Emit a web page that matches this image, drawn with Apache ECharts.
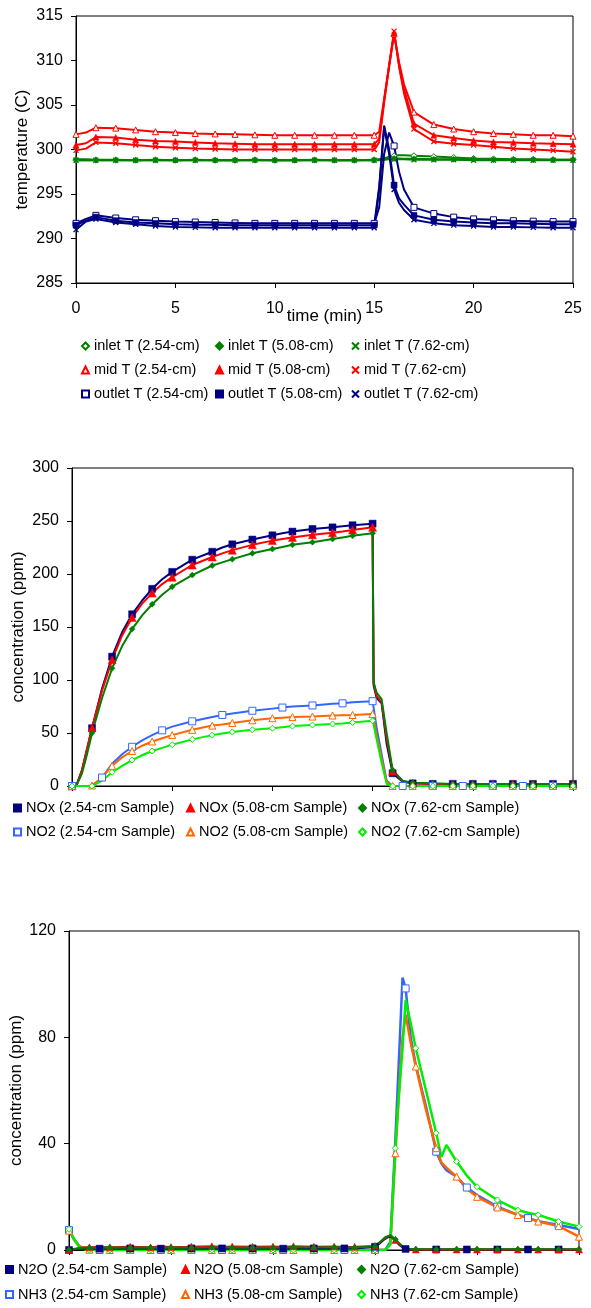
<!DOCTYPE html>
<html><head><meta charset="utf-8">
<script src="https://cdn.jsdelivr.net/npm/echarts@6/dist/echarts.min.js"></script>
<style>html,body{margin:0;padding:0;background:#fff}#c{width:591px;height:1308px}</style>
</head><body><div id="c"></div>
<script>
const FONT = 'Liberation Sans, Arial, sans-serif';

// ---------- Chart 1: temperatures ----------
const T1 = [0,0.5,1,2,3,4,5,6,7,8,9,10,11,12,13,14,15,15.25,15.5,15.75,16,16.25,16.5,17,18,19,20,21,22,23,24,25];
const inlet254 = [298.8,298.8,298.8,298.8,298.8,298.8,298.8,298.8,298.8,298.8,298.8,298.8,298.8,298.8,298.8,298.8,298.8,298.9,299.0,299.2,299.3,299.35,299.35,299.3,299.2,299.1,299.0,298.95,298.9,298.9,298.85,298.85];
const inlet508 = [298.9,298.9,298.85,298.85,298.8,298.85,298.8,298.85,298.8,298.8,298.85,298.8,298.8,298.85,298.8,298.8,298.85,298.85,298.9,298.95,299.0,299.0,298.95,298.95,298.9,298.9,298.9,298.85,298.85,298.85,298.85,298.85];
const inlet762 = [298.8,298.8,298.8,298.8,298.8,298.8,298.8,298.8,298.8,298.8,298.8,298.8,298.8,298.8,298.8,298.8,298.8,298.8,298.85,298.9,298.9,298.9,298.9,298.85,298.85,298.85,298.8,298.8,298.8,298.8,298.8,298.8];
const mid254 = [301.7,301.9,302.45,302.4,302.2,302.0,301.9,301.8,301.75,301.7,301.65,301.6,301.6,301.6,301.6,301.6,301.6,302.0,305.7,309.4,313.0,309.8,307.3,304.2,302.8,302.3,302.0,301.8,301.7,301.6,301.6,301.5];
const mid508 = [300.5,300.7,301.4,301.35,301.1,300.95,300.9,300.8,300.7,300.65,300.6,300.6,300.6,300.6,300.6,300.6,300.6,301.2,305.5,309.3,313.1,309.5,306.8,302.9,301.6,301.3,301.0,300.85,300.8,300.7,300.65,300.6];
const mid762 = [299.9,300.1,300.8,300.7,300.5,300.3,300.2,300.1,300.05,300.0,300.0,300.0,300.0,300.0,300.0,300.0,300.0,300.8,305.3,309.5,313.3,309.3,306.3,302.3,300.9,300.65,300.5,300.3,300.1,300.0,299.9,299.75];
const outlet254 = [291.7,292.2,292.6,292.3,292.1,292.0,291.9,291.85,291.8,291.75,291.7,291.7,291.7,291.7,291.7,291.7,291.7,293.5,299.5,301.9,300.4,297.5,295.5,293.5,292.8,292.4,292.2,292.1,292.0,291.95,291.9,291.9];
const outlet508 = [291.5,292.0,292.4,292.0,291.8,291.7,291.6,291.55,291.55,291.5,291.5,291.5,291.5,291.5,291.5,291.5,291.5,295.8,302.7,300.0,296.0,294.5,293.8,292.6,292.1,291.9,291.8,291.7,291.7,291.65,291.6,291.6];
const outlet762 = [291.0,291.9,292.2,291.8,291.6,291.4,291.3,291.25,291.2,291.2,291.2,291.2,291.2,291.2,291.2,291.2,291.2,295.5,302.5,299.5,295.5,294.0,293.2,292.1,291.7,291.5,291.4,291.3,291.3,291.25,291.2,291.2];

// ---------- Chart 2: NOx / NO2 ----------
const T2 = [0,0.25,0.5,0.75,1,1.5,2,2.5,3,3.5,4,4.5,5,6,7,7.5,8,9,10,10.5,11,12,13,13.5,14,15,15.05,15.2,15.45,15.7,16,16.5,17,18,19,19.5,20,21,22,22.5,23,24,25];
const nox254 = [0,2,15,35,54.5,92,122,145,162,175,186,195,202,213.5,221,225,228,232.5,236.5,238.5,240,242.5,244,245,246,247.5,95,83,78,40,12,4,2.5,2,2,2,2,2,2,2,2,2,2];
const nox508 = [0,2,15,35,55,90,119,142,159,172,182,190.5,197,208.5,216,219.5,222.5,227.5,231.5,233,234.5,237,239,240,241.5,244,97,85,79,45,14,4.5,2.5,2,2,2,2,2,1.8,1.8,1.8,1.8,1.8];
const nox762 = [0,1.5,12,30,50,83,111,132,148,161,171.5,180.5,188,199,208,211,214,219.5,223.5,225.5,227.5,230,233,234.5,236,238.5,98,88,82,50,15,5,3,2.5,2,2,2,2,2,2,2,2,2];
const no2_254 = [0,0,0,0,0,8,21,30,37,43,48,52.5,56,61,65,67,68.5,71,73,74,75,76,77.5,78,79,80,74,55,30,5,0,0,0,0,0,0,0,0,0,0,0,0,0];
const no2_508 = [0,0,0,0,0.5,8,19,27,33,38,42,45,48,53,57,58,59.5,62,64,64.5,65,65.5,66.5,66.8,67,68,64,48,26,4,0,0,0,0,0,0,0,0,0,0,0,0,0];
const no2_762 = [0,0,0,0,0,5,13,19,24.5,29,33,36,39,44,48,49.5,51,53,54.5,55.5,56.5,57.5,58.5,59,60,61.5,58,44,22,2,0,0,0,0,0,0,0,0,0,0,0,0,0];

// ---------- Chart 3: N2O / NH3 ----------
const T3 = [0,0.25,0.5,0.75,1,1.5,2,3,4,4.5,5,6,7,7.5,8,9,10,10.5,11,12,13,13.5,14,15,15.25,15.5,15.75,16,16.15,16.35,16.5,16.75,17,17.5,18,18.25,18.5,19,19.5,20,21,22,22.5,23,24,25];
const n2o254 = [0,0.3,0.5,0.5,0.5,0.5,0.5,0.6,0.5,0.5,0.5,0.6,0.5,0.6,0.5,0.6,0.5,0.5,0.5,0.6,0.5,0.6,0.6,1.2,2.6,4.2,5.3,3.6,2.2,0.9,0.4,0.3,0.2,0.2,0.2,0.2,0.2,0.2,0.2,0.2,0.2,0.2,0.2,0.2,0.2,0.2];
const n2o508 = [0,0.4,0.8,1.0,1.0,1.1,1.0,1.2,1.0,1.3,1.1,1.2,1.4,1.1,1.3,1.2,1.3,1.1,1.4,1.2,1.3,1.1,1.2,1.5,3.0,4.5,5.5,3.8,2.5,1.2,0.4,0.2,0.2,0.2,0.2,0.2,0.2,0.2,0.2,0.2,0.2,0.2,0.2,0.2,0.2,0.2];
const n2o762 = [0,0.3,0.6,0.8,0.8,0.8,0.9,0.8,0.9,0.8,0.9,0.8,0.9,1.0,0.8,0.9,0.8,0.9,1.0,0.9,1.0,0.9,0.9,1.3,3.0,4.8,5.6,4.0,2.8,1.4,0.5,0.3,0.3,0.3,0.3,0.3,0.3,0.3,0.3,0.3,0.3,0.3,0.3,0.3,0.3,0.3];
const nh3_254 = [7.5,4,1.5,0.5,0.1,0,0,0,0,0,0,0,0,0,0,0,0,0,0,0,0,0,0,0,0,0,3,42,68,102.5,98.4,80,69.6,54,37,32.6,30,27.6,23.5,20.7,16.3,13.2,12,10.8,9.4,7.9];
const nh3_508 = [7.3,4,1.5,0.5,0.1,0,0,0,0,0,0,0,0,0,0,0,0,0,0,0,0,0,0,0,0,0,2,36.4,56,80,88.5,78,69,52.7,38.3,33,31,27.6,23,20,16,13.2,12,10.7,9,5];
const nh3_762 = [7.8,4,1.2,0.3,0,0,0,0,0,0,0,0,0,0,0,0,0,0,0,0,0,0,0,0,0,0,2,38.3,56,76,94,85.3,75.9,60,44,35,39.5,33.3,28,23.8,18.8,15,14,13.2,10.7,8.8];

// ---------- helpers ----------
const XMARK = 'path://M0,0L10,10M10,0L0,10';
const onStep = (t, s) => Math.abs(t / s - Math.round(t / s)) < 1e-9;
function mk(name, times, vals, color, sym, hollow, size, step, gi, lw) {
  return {
    name, type: 'line', xAxisIndex: gi, yAxisIndex: gi,
    data: times.map((t, i) => ({ value: [t, vals[i]], symbol: onStep(t, step) ? sym : 'none' })),
    symbol: sym, symbolSize: size, showAllSymbol: true,
    lineStyle: { color, width: lw },
    itemStyle: hollow ? { color: '#fff', borderColor: color, borderWidth: 1 }
                      : { color, borderColor: color, borderWidth: sym === XMARK ? 1.3 : 0.5 },
    emphasis: { disabled: true }, animation: false
  };
}
const GREEN = '#008000', RED = '#ff0000', NAVY = '#000080', BLUE = '#3366ff', ORANGE = '#ff6600', LIME = '#00ee00';

function xAx(gi, showLabel, name) {
  return {
    type: 'value', gridIndex: gi, min: 0, max: 25, interval: 5,
    axisLine: { show: true, onZero: false, lineStyle: { color: '#000', width: 1 } },
    axisTick: { show: true, length: 5, lineStyle: { color: '#000' } },
    axisLabel: { show: showLabel, color: '#000', fontSize: 16, fontFamily: FONT, margin: 18 },
    splitLine: { show: false },
    name: name || '', nameLocation: 'middle', nameGap: 25, nameMoveOverlap: false,
    nameTextStyle: { color: '#000', fontSize: 17, fontFamily: FONT }
  };
}
function yAx(gi, min, max, interval, name, gap) {
  return {
    type: 'value', gridIndex: gi, min, max, interval,
    axisLine: { show: true, onZero: false, lineStyle: { color: '#000', width: 1 } },
    axisTick: { show: true, length: 5, lineStyle: { color: '#000' } },
    axisLabel: { color: '#000', fontSize: 16, fontFamily: FONT, margin: 13 },
    splitLine: { show: false },
    name, nameLocation: 'middle', nameGap: gap, nameMoveOverlap: false,
    nameTextStyle: { color: '#000', fontSize: 17, fontFamily: FONT }
  };
}
function lg(items, left, top, lh) {
  return {
    orient: 'vertical', left, top, padding: 0, itemGap: 0, itemWidth: 7, itemHeight: 7,
    selectedMode: false,
    textStyle: { color: '#000', fontSize: 14.5, fontFamily: FONT, lineHeight: lh },
    data: items.map(([name, icon]) => ({ name, icon }))
  };
}

const series = [
  mk('inlet T (2.54-cm)', T1, inlet254, GREEN, 'diamond', true, 6, 1, 0, 2),
  mk('inlet T (5.08-cm)', T1, inlet508, GREEN, 'diamond', false, 6, 1, 0, 2),
  mk('inlet T (7.62-cm)', T1, inlet762, GREEN, XMARK, false, 5, 1, 0, 2),
  mk('mid T (2.54-cm)', T1, mid254, RED, 'triangle', true, 6, 1, 0, 2),
  mk('mid T (5.08-cm)', T1, mid508, RED, 'triangle', false, 6, 1, 0, 2),
  mk('mid T (7.62-cm)', T1, mid762, RED, XMARK, false, 5, 1, 0, 2),
  mk('outlet T (2.54-cm)', T1, outlet254, NAVY, 'rect', true, 6, 1, 0, 2),
  mk('outlet T (5.08-cm)', T1, outlet508, NAVY, 'rect', false, 6, 1, 0, 2),
  mk('outlet T (7.62-cm)', T1, outlet762, NAVY, XMARK, false, 5, 1, 0, 2),

  mk('NOx (2.54-cm Sample)', T2, nox254, NAVY, 'rect', false, 7, 1, 1, 2),
  mk('NOx (5.08-cm Sample)', T2, nox508, RED, 'triangle', false, 8, 1, 1, 2),
  mk('NOx (7.62-cm Sample)', T2, nox762, GREEN, 'diamond', false, 6, 1, 1, 2),
  mk('NO2 (2.54-cm Sample)', T2, no2_254, BLUE, 'rect', true, 7, 1.5, 1, 2),
  mk('NO2 (5.08-cm Sample)', T2, no2_508, ORANGE, 'triangle', true, 7, 1, 1, 2),
  mk('NO2 (7.62-cm Sample)', T2, no2_762, LIME, 'diamond', true, 6, 1, 1, 2),

  mk('NH3 (2.54-cm Sample)', T3, nh3_254, BLUE, 'rect', true, 7, 1.5, 2, 2.5),
  mk('NH3 (5.08-cm Sample)', T3, nh3_508, ORANGE, 'triangle', true, 7, 1, 2, 2.5),
  mk('NH3 (7.62-cm Sample)', T3, nh3_762, LIME, 'diamond', true, 6, 1, 2, 2.5),
  mk('N2O (2.54-cm Sample)', T3, n2o254, NAVY, 'rect', false, 7, 1.5, 2, 2),
  mk('N2O (5.08-cm Sample)', T3, n2o508, RED, 'triangle', false, 7, 1, 2, 2),
  mk('N2O (7.62-cm Sample)', T3, n2o762, GREEN, 'diamond', false, 6, 1, 2, 2)
];

const option = {
  animation: false,
  backgroundColor: '#fff',
  textStyle: { fontFamily: FONT },
  grid: [
    { left: 76, top: 16, width: 497, height: 267, show: true, borderColor: '#000', borderWidth: 1 },
    { left: 72, top: 468, width: 501, height: 318, show: true, borderColor: '#000', borderWidth: 1 },
    { left: 67, top: 931, width: 512, height: 319, show: true, borderColor: '#000', borderWidth: 1 }
  ],
  xAxis: [xAx(0, true, 'time (min)'), xAx(1, false), xAx(2, false)],
  yAxis: [
    yAx(0, 285, 315, 5, 'temperature (C)', 45),
    yAx(1, 0, 300, 50, 'concentration (ppm)', 45),
    yAx(2, 0, 120, 40, 'concentration (ppm)', 44)
  ],
  legend: [
    lg([['inlet T (2.54-cm)', 'diamond'], ['mid T (2.54-cm)', 'triangle'], ['outlet T (2.54-cm)', 'rect']], 81, 334, 24),
    lg([['inlet T (5.08-cm)', 'diamond'], ['mid T (5.08-cm)', 'triangle'], ['outlet T (5.08-cm)', 'rect']], 215, 334, 24),
    lg([['inlet T (7.62-cm)', XMARK], ['mid T (7.62-cm)', XMARK], ['outlet T (7.62-cm)', XMARK]], 351, 334, 24),
    lg([['NOx (2.54-cm Sample)', 'rect'], ['NO2 (2.54-cm Sample)', 'rect']], 13, 796, 24),
    lg([['NOx (5.08-cm Sample)', 'triangle'], ['NO2 (5.08-cm Sample)', 'triangle']], 186, 796, 24),
    lg([['NOx (7.62-cm Sample)', 'diamond'], ['NO2 (7.62-cm Sample)', 'diamond']], 358, 796, 24),
    lg([['N2O (2.54-cm Sample)', 'rect'], ['NH3 (2.54-cm Sample)', 'rect']], 5, 1257, 25),
    lg([['N2O (5.08-cm Sample)', 'triangle'], ['NH3 (5.08-cm Sample)', 'triangle']], 181, 1257, 25),
    lg([['N2O (7.62-cm Sample)', 'diamond'], ['NH3 (7.62-cm Sample)', 'diamond']], 357, 1257, 25)
  ],
  series
};
const chart = echarts.init(document.getElementById('c'), null, { renderer: 'canvas' });
chart.setOption(option);
</script>
</body></html>
